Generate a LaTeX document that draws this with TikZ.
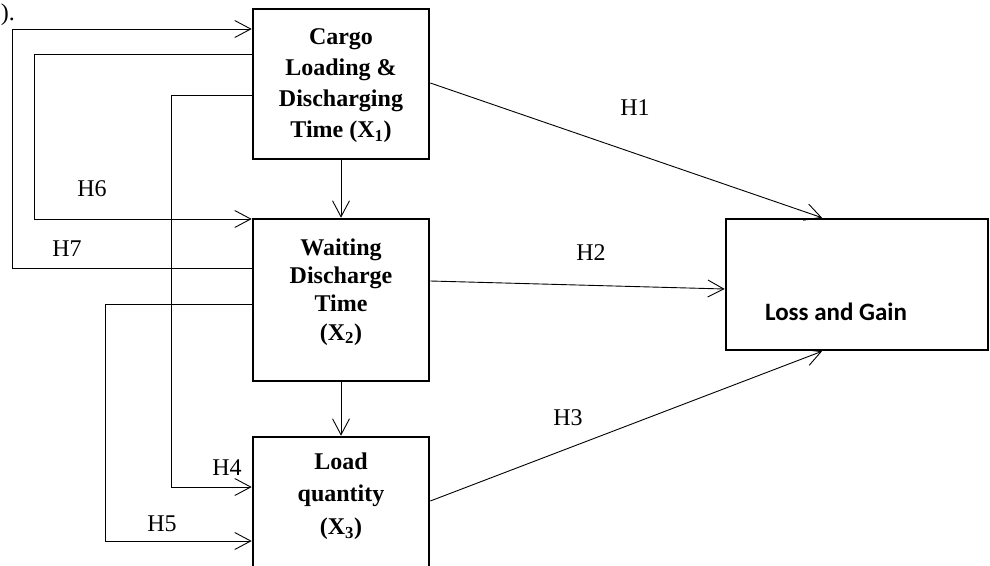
\documentclass[tikz,border=0pt]{standalone}
\usepackage{fontspec}
\setmainfont{Liberation Serif}
\newfontfamily\calibrifont{Carlito}
\usetikzlibrary{arrows.meta}
\begin{document}
\begin{tikzpicture}[x=1pt,y=-1pt,
  varbox/.style={draw, line width=2.6pt, rectangle, inner sep=0pt},
  boxtext/.style={font=\bfseries, align=center, inner sep=0pt},
  hyp/.style={inner sep=0pt},
  conn/.style={line width=0.9pt, -{Straight Barb[length=16pt,width=17pt,line width=0.9pt]}},
  plain/.style={line width=0.9pt}]
\useasboundingbox (0,0) rectangle (990,565);
\clip (0,0) rectangle (990,565);
\fontsize{24}{31}\selectfont

% variable boxes
\node[varbox, minimum width=176pt, minimum height=150pt] (x1) at (341,84) {};
\node[varbox, minimum width=176pt, minimum height=162pt] (x2) at (341,300) {};
\node[varbox, minimum width=176pt, minimum height=180pt] (x3) at (341,527) {};
\node[varbox, minimum width=262pt, minimum height=131pt] (lg) at (857,284.5) {};

% box captions
\node[boxtext, font=\bfseries\fontsize{24}{31}\selectfont] (t1) at (341,86)
  {Cargo\\Loading \&\\Discharging\\Time (X\textsubscript{1})};
\node[boxtext, font=\bfseries\fontsize{24}{28.3}\selectfont] (t2) at (341,292)
  {Waiting\\Discharge\\Time\\(X\textsubscript{2})};
\node[boxtext, font=\bfseries\fontsize{24}{32.5}\selectfont] (t3) at (341,496)
  {Load\\quantity\\(X\textsubscript{3})};
\node[inner sep=0pt, font=\calibrifont\bfseries\fontsize{25}{30}\selectfont] (tlg) at (836,312) {Loss and Gain};

% fragment of preceding text
\node[anchor=base east, inner sep=0pt] (frag) at (15,20) {).};

% paths between the independent variables
\draw[conn] (x2.west |- 0,268) -| (12,29) -- (x1.west |- 0,29);
\draw[conn] (x1.west |- 0,54) -| (34,219) -- (x2.west |- 0,219);
\draw[conn] (x1.west |- 0,95) -| (171,487) -- (x3.west |- 0,487);
\draw[conn] (x2.west |- 0,304) -| (105,541) -- (x3.west |- 0,541);
\draw[conn] (x1.south) -- (x2.north);
\draw[conn] (x2.south) -- (x3.north);

% paths to the dependent variable
\draw[conn] (x1.east |- 0,83) -- (822,0 |- lg.north);
\draw[conn] (x2.east |- 0,281) -- (lg.west |- 0,289);
\draw[conn] (x3.east |- 0,501) -- (822,0 |- lg.south);

% hypothesis labels
\node[hyp] (h1) at (635,108) {H1};
\node[hyp] (h2) at (591,253) {H2};
\node[hyp] (h3) at (568,418) {H3};
\node[hyp] (h4) at (227,468) {H4};
\node[hyp] (h5) at (162,524) {H5};
\node[hyp] (h6) at (92,189) {H6};
\node[hyp] (h7) at (67,249) {H7};
\end{tikzpicture}
\end{document}
